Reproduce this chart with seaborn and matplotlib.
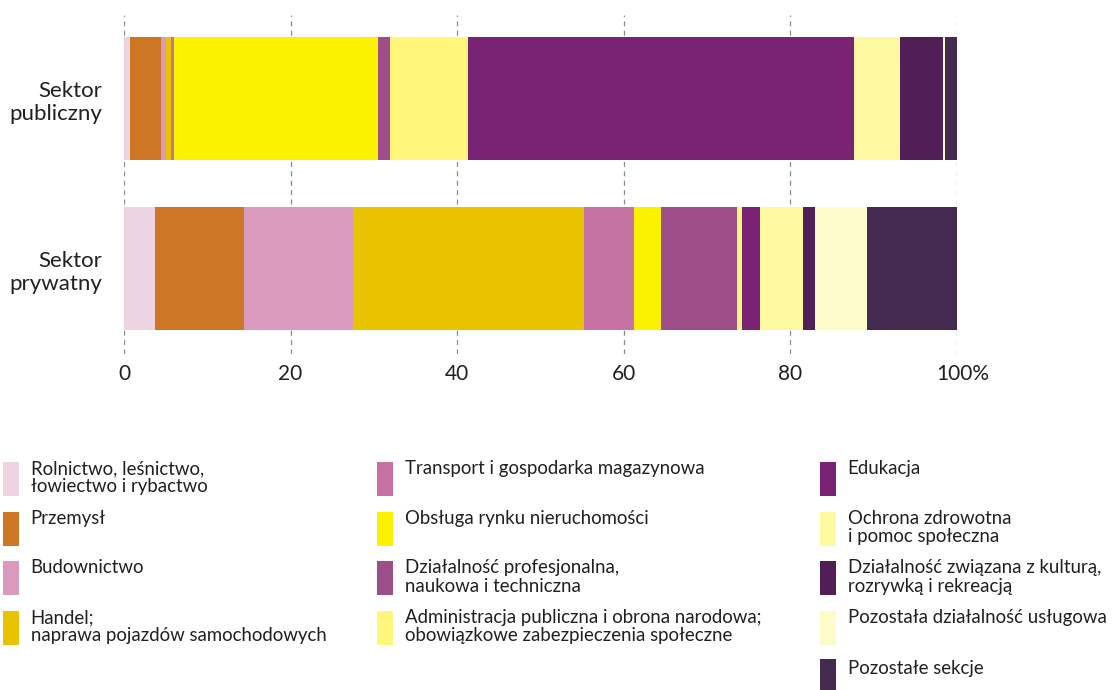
import numpy as np
import pandas as pd
import matplotlib
matplotlib.use("Agg")
import matplotlib.pyplot as plt
import matplotlib.transforms as mtransforms
import seaborn as sns
from matplotlib.patches import Patch

# ---------------- data ----------------
sectors = ["Sektor\npubliczny", "Sektor\nprywatny"]

sections = [
    "Rolnictwo, leśnictwo,\nłowiectwo i rybactwo",
    "Przemysł",
    "Budownictwo",
    "Handel;\nnaprawa pojazdów samochodowych",
    "Transport i gospodarka magazynowa",
    "Obsługa rynku nieruchomości",
    "Działalność profesjonalna,\nnaukowa i techniczna",
    "Administracja publiczna i obrona narodowa;\nobowiązkowe zabezpieczenia społeczne",
    "Edukacja",
    "Ochrona zdrowotna\ni pomoc społeczna",
    "Działalność związana z kulturą,\nrozrywką i rekreacją",
    "Pozostała działalność usługowa",
    "Pozostałe sekcje",
]

public_values = [0.7, 3.7, 0.7, 0.5, 0.4, 24.5, 1.4, 9.4, 46.3, 5.5, 5.2, 0.2, 1.5]
private_values = [3.7, 10.7, 13.1, 27.7, 6.0, 3.3, 9.1, 0.6, 2.2, 5.1, 1.4, 6.3, 10.8]

colors = [
    "#EED3E3", "#CD7724", "#DA9ABD", "#E9C300", "#C673A4", "#FCF200",
    "#9E4F8A", "#FFF67A", "#7A2273", "#FDF9A0", "#521E56", "#FEFBCB", "#442A4F",
]

x_ticks = [0, 20, 40, 60, 80, 100]
x_tick_labels = ["0", "20", "40", "60", "80", "100%"]

TEXT = "#231F20"

# ---------------- figure ----------------
sns.set_theme(style="white")
plt.rcParams["font.family"] = ["Lato", "DejaVu Sans"]

W, H = 1116, 690
fig = plt.figure(figsize=(W / 100, H / 100), dpi=100)
ax = fig.add_axes([124 / W, 1 - 354 / H, (957 - 124) / W, (354 - 15) / H])

cum_pub = np.cumsum(public_values)
cum_priv = np.cumsum(private_values)

# stacked bars: draw cumulative totals from last to first
for i in reversed(range(len(sections))):
    d = pd.DataFrame({"sektor": sectors, "koniec": [cum_pub[i], cum_priv[i]]})
    sns.barplot(data=d, x="koniec", y="sektor", order=sectors, orient="h",
                color=colors[i], saturation=1, width=0.72, linewidth=0,
                ax=ax)

ax.set_xlim(0, 100)
ax.set_ylim(1 + (354 - 268.5) / 170, -(98.5 - 15) / 170)
ax.set_xticks(x_ticks)
ax.set_xticklabels(x_tick_labels)
ax.set_xlabel("")
ax.set_ylabel("")
for s in ax.spines.values():
    s.set_visible(False)
ax.grid(axis="x", linestyle=(0, (4, 3.5)), color="#8a8a8a", linewidth=0.9)
ax.grid(axis="y", visible=False)
ax.set_axisbelow(True)
ax.tick_params(axis="x", length=0, pad=7, labelsize=15, labelcolor=TEXT)
ax.tick_params(axis="y", length=0, pad=16, labelsize=16, labelcolor=TEXT)

# shift the "100%" label slightly right as in the reference
last = ax.get_xticklabels()[-1]
last.set_transform(last.get_transform() +
                   mtransforms.ScaledTranslation(6 / 100, 0, fig.dpi_scale_trans))

# ---------------- legend (three columns) ----------------
handles = [Patch(facecolor=c, edgecolor="none") for c in colors]
n = len(sections)
# single-line labels get an empty second line so every row has the same height
# (except the very last one, which sits at the bottom edge)
leg_labels = [s if ("\n" in s or i == n - 1) else s + "\n"
              for i, s in enumerate(sections)]
columns = [(0, 4, 3), (4, 8, 377), (8, 13, 820)]
for start, end, xpx in columns:
    leg = fig.legend(handles[start:end], leg_labels[start:end],
                     loc="upper left", bbox_to_anchor=(xpx / W, 1 - 460 / H),
                     frameon=False, fontsize=13.4, handlelength=0.86,
                     handleheight=2.42, handletextpad=0.62, labelspacing=0.74,
                     borderpad=0, borderaxespad=0, labelcolor=TEXT)
    texts = leg.get_texts()
    for t in texts:
        t.set_linespacing(1.1)
    if end == n:
        t = texts[-1]
        t.set_transform(t.get_transform() +
                        mtransforms.ScaledTranslation(0, 7.5 / 100, fig.dpi_scale_trans))

fig.savefig("out.png", dpi=100)
